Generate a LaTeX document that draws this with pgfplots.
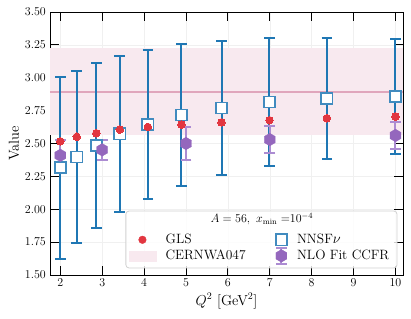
\documentclass[border=0pt]{standalone}
\usepackage{pgfplots}
\pgfplotsset{compat=1.18}
\usepackage{pgfplotstable}
\definecolor{blueC}{HTML}{1F77B4}
\definecolor{redC}{RGB}{226,54,64}
\definecolor{purpleC}{HTML}{9467BD}
\definecolor{purpleL}{RGB}{172,140,210}
\definecolor{bandC}{RGB}{248,233,239}
\definecolor{bandL}{RGB}{224,166,188}
\pgfdeclareplotmark{hexagon*}{%
  \pgfpathmoveto{\pgfqpointpolar{90}{\pgfplotmarksize}}%
  \pgfpathlineto{\pgfqpointpolar{150}{\pgfplotmarksize}}%
  \pgfpathlineto{\pgfqpointpolar{210}{\pgfplotmarksize}}%
  \pgfpathlineto{\pgfqpointpolar{270}{\pgfplotmarksize}}%
  \pgfpathlineto{\pgfqpointpolar{330}{\pgfplotmarksize}}%
  \pgfpathlineto{\pgfqpointpolar{30}{\pgfplotmarksize}}%
  \pgfpathclose
  \pgfusepathqfillstroke
}
\pgfplotstableread{
x y e
2.000 2.316 0.693
2.392 2.398 0.657
2.860 2.485 0.627
3.420 2.574 0.595
4.090 2.645 0.566
4.890 2.717 0.539
5.848 2.770 0.512
6.993 2.816 0.488
8.362 2.841 0.462
10.00 2.856 0.439
}\nnsf
\pgfplotstableread{
x y
2.000 2.517
2.392 2.551
2.860 2.578
3.420 2.606
4.090 2.626
4.890 2.644
5.848 2.661
6.993 2.677
8.362 2.692
10.00 2.705
}\gls
\pgfplotstableread{
x y e
2 2.410 0.118
3 2.452 0.076
5 2.500 0.122
7 2.530 0.106
10 2.561 0.105
}\nlo
\begin{document}
\fontsize{12}{14}\selectfont
\begin{tikzpicture}
\useasboundingbox (-50pt,-43pt) rectangle (361pt,275pt);
\begin{axis}[
  at={(0,0)}, anchor=south west,
  scale only axis, width=353pt, height=263pt,
  xmin=1.754, xmax=10.18, ymin=1.5, ymax=3.5,
  xtick={2,3,4,5,6,7,8,9,10},
  ytick={1.5,1.75,2,2.25,2.5,2.75,3,3.25,3.5},
  yticklabel style={/pgf/number format/.cd, fixed, fixed zerofill, precision=2},
  tick align=inside, major tick length=9pt,
  every tick/.style={black, line width=0.8pt},
  axis line style={black, line width=0.9pt},
  grid=major, major grid style={color=gray!12, line width=0.5pt},
  xlabel={$Q^2$ [GeV$^2$]}, ylabel={Value},
  xlabel style={at={(axis description cs:0.5,-0.099)}, anchor=center, font=\fontsize{14.5}{17}\selectfont},
  ylabel style={at={(axis description cs:-0.102,0.5)}, anchor=center, font=\fontsize{14.5}{17}\selectfont},
  legend columns=2, transpose legend,
  legend cell align=left,
  legend style={at={(axis description cs:0.214,0.1)}, anchor=west, draw=none, fill=none,
    font=\fontsize{13.5}{16}\selectfont, nodes={inner sep=1.5pt},
    /tikz/every odd column/.append style={column sep=8pt},
    /tikz/every even column/.append style={column sep=28pt}},
]
% legend images in the reference's order
\addlegendimage{legend image code/.code={\draw[redC, fill=redC, mark=*, mark size=3.8pt] plot coordinates {(13.5pt,0pt)};}}
\addlegendimage{legend image code/.code={\fill[bandC] (0pt,-5pt) rectangle (27pt,5pt);}}
\addlegendimage{legend image code/.code={\draw[blueC!85, fill=white, line width=1.6pt, mark=square*, mark size=5.6pt] plot coordinates {(13.5pt,0pt)};}}
\addlegendimage{legend image code/.code={%
  \draw[purpleL, line width=1.8pt] (13.5pt,-8pt) -- (13.5pt,8pt);
  \draw[purpleL, line width=1.8pt] (8.2pt,-8pt) -- (18.8pt,-8pt);
  \draw[purpleL, line width=1.8pt] (8.2pt,8pt) -- (18.8pt,8pt);
  \draw[purpleC, fill=purpleC, line width=0.3pt, mark=hexagon*, mark size=6.3pt] plot coordinates {(13.5pt,0pt)};}}
\addplot[fill=bandC, draw=none, forget plot] coordinates {(1.754,2.563) (10.18,2.563) (10.18,3.225) (1.754,3.225)} -- cycle;
\addplot[bandL, line width=2pt, forget plot] coordinates {(1.754,2.894) (10.18,2.894)};
\addplot[only marks, forget plot, mark=square*, mark size=5.6pt,
  mark options={fill=white, draw=blueC!85, line width=1.6pt},
  error bars/.cd, y dir=both, y explicit,
  error bar style={draw=blueC, line width=2pt},
  error mark options={rotate=90, draw=blueC, line width=2pt, mark size=5.3pt}]
  table[x=x, y=y, y error=e] {\nnsf};
\addplot[only marks, forget plot, mark=*, mark size=3.8pt, mark options={fill=redC, draw=redC, line width=0pt}]
  table[x=x, y=y] {\gls};
\addplot[only marks, forget plot, mark=hexagon*, mark size=6.3pt,
  mark options={fill=purpleC, draw=purpleC, line width=0.3pt},
  error bars/.cd, y dir=both, y explicit,
  error bar style={draw=purpleL, line width=2pt},
  error mark options={rotate=90, draw=purpleL, line width=2pt, mark size=5.3pt}]
  table[x=x, y=y, y error=e] {\nlo};
\draw[rounded corners=3pt, draw=gray!35, line width=0.8pt, fill=white, fill opacity=0.8]
  (axis description cs:0.215,0.027) rectangle (axis description cs:0.983,0.243);
\node[anchor=center] at (axis description cs:0.6,0.213) {$A=56,\ x_{\mathrm{min}}=${}$10^{-4}$};
\legend{GLS, CERNWA047, NNSF$\nu$, NLO Fit CCFR}
\end{axis}
\end{tikzpicture}
\end{document}
